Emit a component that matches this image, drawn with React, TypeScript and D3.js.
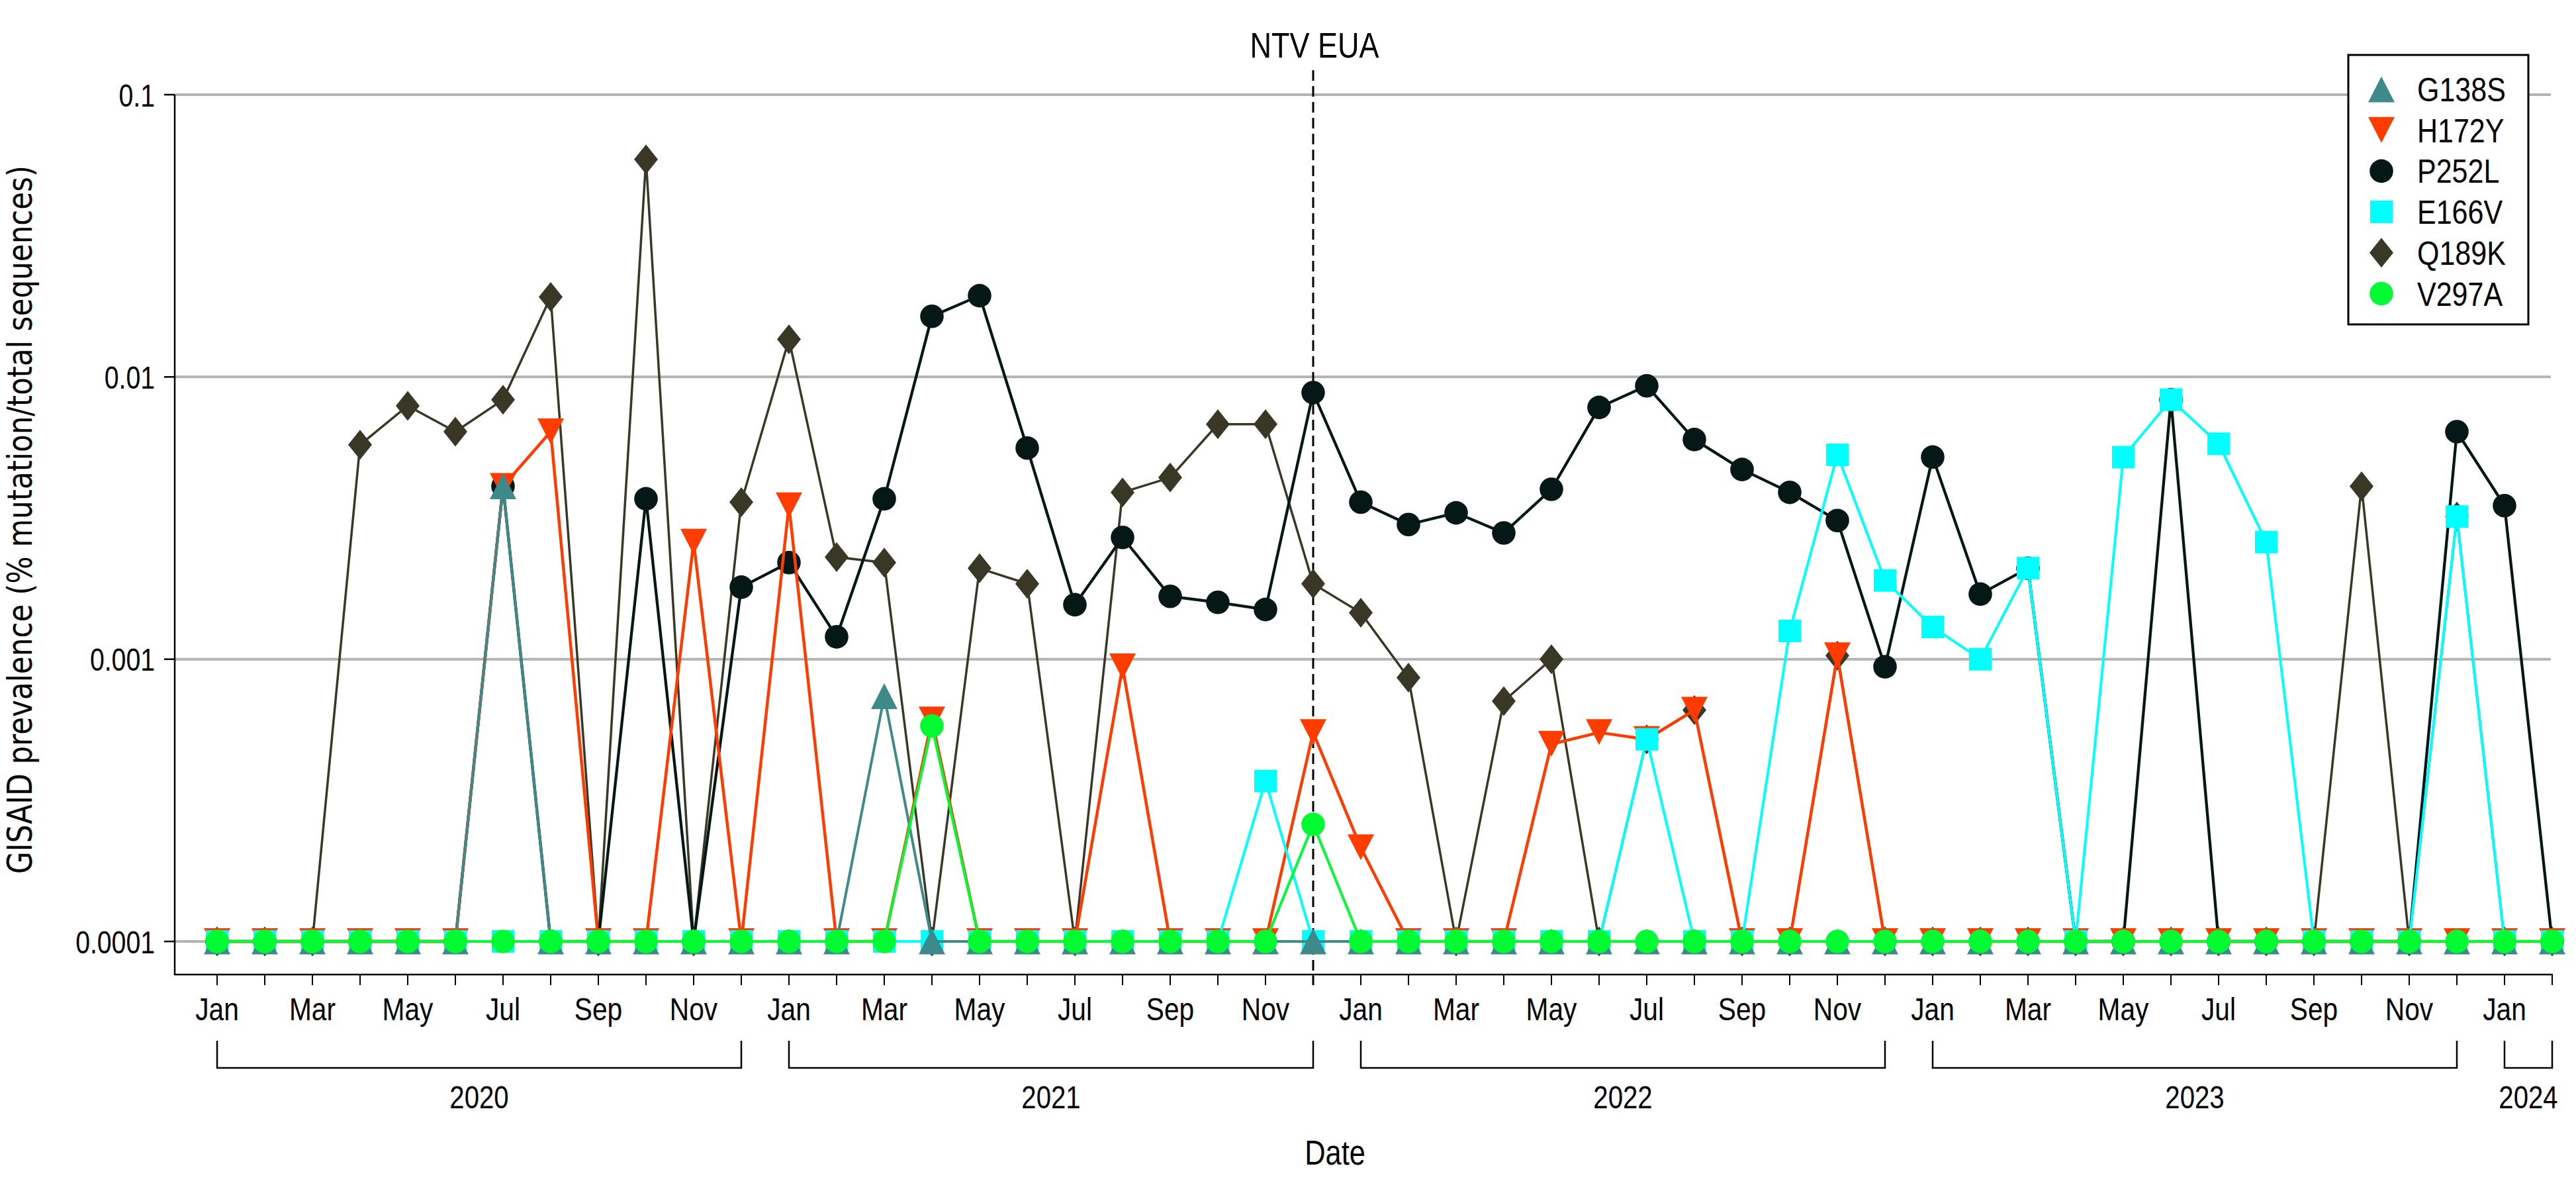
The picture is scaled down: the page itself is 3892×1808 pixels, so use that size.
import React from 'react';
import * as d3 from 'd3';

// ---------- categories ----------
const monthNames = ['Jan', 'Feb', 'Mar', 'Apr', 'May', 'Jun', 'Jul', 'Aug', 'Sep', 'Oct', 'Nov', 'Dec'];
const years = ['2020', '2021', '2022', '2023', '2024'];
const monthsPerYear = [12, 12, 12, 12, 2];
const labeledMonths = ['Jan', 'Mar', 'May', 'Jul', 'Sep', 'Nov'];
const yTickValues = [0.1, 0.01, 0.001, 0.0001];
const yTickLabels = ['0.1', '0.01', '0.001', '0.0001'];
const eventMonthIndex = 23; // Dec 2021
const eventLabel = 'NTV EUA';

// ---------- series (Jan 2020 .. Feb 2024), 0.0001 = none detected ----------
const B = 0.0001;
const G138S = [
  B, B, B, B, B, B, 0.0041, B, B, B, B, B,
  B, B, 0.00074, B, B, B, B, B, B, B, B, B,
  B, B, B, B, B, B, B, B, B, B, B, B,
  B, B, B, B, B, B, B, B, B, B, B, B,
  B, B,
];
const H172Y = [
  B, B, B, B, B, B, 0.0041, 0.0064, B, B, 0.0026, B,
  0.0035, B, B, 0.00061, B, B, B, 0.00094, B, B, B, 0.00055,
  0.000215, B, B, B, 0.0005, 0.00055, 0.00052, 0.00066, B, B, 0.00103, B,
  B, B, B, B, B, B, B, B, B, B, B, B,
  B, B,
];
const P252L = [
  B, B, B, B, B, B, 0.0041, B, B, 0.0037, B, 0.0018,
  0.0022, 0.0012, 0.0037, 0.0164, 0.0194, 0.0056, 0.00156, 0.0027, 0.00167, 0.00159, 0.0015, 0.0088,
  0.0036, 0.003, 0.0033, 0.0028, 0.004, 0.0078, 0.0093, 0.006, 0.0047, 0.0039, 0.0031, 0.00094,
  0.0052, 0.0017, 0.0021, B, B, 0.0083, B, B, B, B, B, 0.0064,
  0.0035, B,
];
const E166V = [
  B, B, B, B, B, B, B, B, B, B, B, B,
  B, B, B, B, B, B, B, B, B, B, 0.00037, B,
  B, B, B, B, B, B, 0.00052, B, B, 0.00126, 0.0053, 0.0019,
  0.0013, 0.001, 0.0021, B, 0.0052, 0.0083, 0.0058, 0.0026, B, B, B, 0.0032,
  B, B,
];
const Q189K = [
  B, B, B, 0.00575, 0.0079, 0.0064, 0.0083, 0.0192, B, 0.059, B, 0.0036,
  0.0136, 0.0023, 0.0022, B, 0.0021, 0.00185, B, 0.0039, 0.0044, 0.0068, 0.0068, 0.00185,
  0.00146, 0.00086, B, 0.00071, 0.001, B, 0.00052, 0.00066, B, B, 0.00103, B,
  B, B, B, B, B, B, B, B, B, 0.0041, B, 0.0032,
  B, B,
];
const V297A = [
  B, B, B, B, B, B, B, B, B, B, B, B,
  B, B, B, 0.00058, B, B, B, B, B, B, B, 0.00026,
  B, B, B, B, B, B, B, B, B, B, B, B,
  B, B, B, B, B, B, B, B, B, B, B, B,
  B, B,
];

type Shape = 'triUp' | 'triDown' | 'circle' | 'square' | 'diamond';
interface Series { name: string; values: number[]; color: string; shape: Shape; width: number; }

const legendOrder: Series[] = [
  { name: 'G138S', values: G138S, color: '#3e8a8a', shape: 'triUp', width: 4 },
  { name: 'H172Y', values: H172Y, color: '#ff3c00', shape: 'triDown', width: 4.5 },
  { name: 'P252L', values: P252L, color: '#061816', shape: 'circle', width: 4.3 },
  { name: 'E166V', values: E166V, color: '#00ffff', shape: 'square', width: 4 },
  { name: 'Q189K', values: Q189K, color: '#393826', shape: 'diamond', width: 3.5 },
  { name: 'V297A', values: V297A, color: '#00fb33', shape: 'circle', width: 4 },
];
const drawOrder = ['Q189K', 'P252L', 'H172Y', 'E166V', 'G138S', 'V297A'];

// ---------- layout ----------
const W = 3892;
const H = 1808;
const plotLeft = 264;
const plotRight = 3856;
const plotTop = 143;
const plotBottom = 1472;
const nMonths = monthsPerYear.reduce((a, b) => a + b, 0);

const x = d3.scaleLinear().domain([-0.889, nMonths - 1]).range([plotLeft, plotRight]);
const y = d3.scaleLog().domain([0.0001, 0.1]).range([1422, plotTop]);

const NARROW = "'Liberation Sans', Arial, sans-serif";
const WIDE = "'DejaVu Sans', Verdana, sans-serif";

function markerPath(shape: Shape, cx: number, cy: number): string {
  const p = d3.path();
  if (shape === 'triUp') {
    p.moveTo(cx, cy - 19.5); p.lineTo(cx + 20, cy + 19.5); p.lineTo(cx - 20, cy + 19.5); p.closePath();
  } else if (shape === 'triDown') {
    p.moveTo(cx - 20, cy - 20); p.lineTo(cx + 20, cy - 20); p.lineTo(cx, cy + 19); p.closePath();
  } else if (shape === 'square') {
    p.rect(cx - 17, cy - 17, 34, 34);
  } else if (shape === 'diamond') {
    p.moveTo(cx, cy - 22.5); p.lineTo(cx + 18, cy); p.lineTo(cx, cy + 22.5); p.lineTo(cx - 18, cy); p.closePath();
  } else {
    p.arc(cx, cy, 17.8, 0, Math.PI * 2);
  }
  return p.toString();
}

const Marker = ({ shape, cx, cy, color }: { shape: Shape; cx: number; cy: number; color: string }) =>
  shape === 'circle'
    ? <circle cx={cx} cy={cy} r={17.8} fill={color} />
    : <path d={markerPath(shape, cx, cy)} fill={color} />;

const CText = ({ x0, y0, size, sx, anchor, children }: any) => (
  <text
    transform={`translate(${x0},${y0}) scale(${sx},1)`}
    textAnchor={anchor}
    fontSize={size}
    fontFamily={NARROW}
    fill="#000"
  >
    {children}
  </text>
);

export default function App() {
  const lineGen = d3.line<number>().x((_, i) => x(i)).y((v) => y(v));

  // month ticks
  const monthIdx = d3.range(nMonths);
  const monthLabelOf = (i: number) => {
    let rem = i;
    for (let k = 0; k < monthsPerYear.length; k++) {
      if (rem < monthsPerYear[k]) return monthNames[rem];
      rem -= monthsPerYear[k];
    }
    return '';
  };
  // year brackets
  const brackets: { label: string; start: number; end: number }[] = [];
  let acc = 0;
  years.forEach((yr, k) => {
    brackets.push({ label: yr, start: acc, end: acc + monthsPerYear[k] - 1 });
    acc += monthsPerYear[k];
  });

  const seriesByName: Record<string, Series> = {};
  legendOrder.forEach((s) => (seriesByName[s.name] = s));

  const evX = x(eventMonthIndex);

  const legendX = 3548;
  const legendY = 83;
  const legendW = 272;
  const legendH = 407;

  return (
    <svg
      width={W}
      height={H}
      viewBox={`0 0 ${W} ${H}`}
      style={{ position: 'absolute', left: 0, top: 0, background: '#fff' }}
    >
      <rect x={0} y={0} width={W} height={H} fill="#fff" />

      {/* gridlines */}
      {yTickValues.map((v) => (
        <line key={`g${v}`} x1={plotLeft} x2={3854} y1={y(v)} y2={y(v)} stroke="#b3b3b3" strokeWidth={4} />
      ))}

      {/* event line */}
      <line x1={evX} x2={evX} y1={106} y2={1488} stroke="#000" strokeWidth={3} strokeDasharray="16,8" />
      <CText x0={evX + 2} y0={87} size={53} sx={0.85} anchor="middle">{eventLabel}</CText>

      {/* series */}
      {drawOrder.map((name) => {
        const s = seriesByName[name];
        return (
          <g key={name}>
            <path d={lineGen(s.values) || ''} fill="none" stroke={s.color} strokeWidth={s.width} strokeLinejoin="round" />
            {s.values.map((v, i) => (
              <Marker key={i} shape={s.shape} cx={x(i)} cy={y(v)} color={s.color} />
            ))}
          </g>
        );
      })}

      {/* axes */}
      <line x1={plotLeft} x2={plotLeft} y1={plotTop} y2={plotBottom + 1} stroke="#000" strokeWidth={2.5} />
      <line x1={plotLeft - 1} x2={plotRight + 1} y1={plotBottom} y2={plotBottom} stroke="#000" strokeWidth={2.5} />

      {yTickValues.map((v, k) => (
        <g key={`yt${v}`}>
          <line x1={248} x2={plotLeft} y1={y(v)} y2={y(v)} stroke="#000" strokeWidth={2.5} />
          <CText x0={234} y0={y(v) + 17.5} size={49} sx={0.8} anchor="end">{yTickLabels[k]}</CText>
        </g>
      ))}

      {monthIdx.map((i) => (
        <line key={`xt${i}`} x1={x(i)} x2={x(i)} y1={plotBottom} y2={1488} stroke="#000" strokeWidth={2} />
      ))}
      {monthIdx
        .filter((i) => labeledMonths.includes(monthLabelOf(i)))
        .map((i) => (
          <CText key={`xl${i}`} x0={x(i)} y0={1541} size={49} sx={0.83} anchor="middle">{monthLabelOf(i)}</CText>
        ))}

      {/* year brackets */}
      {brackets.map((b) => (
        <g key={b.label}>
          <path
            d={`M${x(b.start)},1572 L${x(b.start)},1613 L${x(b.end)},1613 L${x(b.end)},1572`}
            fill="none"
            stroke="#000"
            strokeWidth={2.5}
          />
          <CText x0={(x(b.start) + x(b.end)) / 2} y0={1674} size={49} sx={0.82} anchor="middle">{b.label}</CText>
        </g>
      ))}

      {/* axis titles */}
      <CText x0={2017} y0={1759} size={51} sx={0.85} anchor="middle">Date</CText>
      <text
        transform={`translate(48,785) rotate(-90)`}
        textAnchor="middle"
        fontSize={52}
        fontFamily={WIDE}
        textLength={1070}
        lengthAdjust="spacingAndGlyphs"
        fill="#000"
      >
        GISAID prevalence (% mutation/total sequences)
      </text>

      {/* legend */}
      <rect x={legendX} y={legendY} width={legendW} height={legendH} fill="#fff" stroke="#000" strokeWidth={3} />
      {legendOrder.map((s, k) => {
        const cy = 135 + k * 61.7;
        return (
          <g key={`lg${s.name}`}>
            <Marker shape={s.shape} cx={3598} cy={cy} color={s.color} />
            <CText x0={3652} y0={cy + 18} size={50} sx={0.86} anchor="start">{s.name}</CText>
          </g>
        );
      })}
    </svg>
  );
}
